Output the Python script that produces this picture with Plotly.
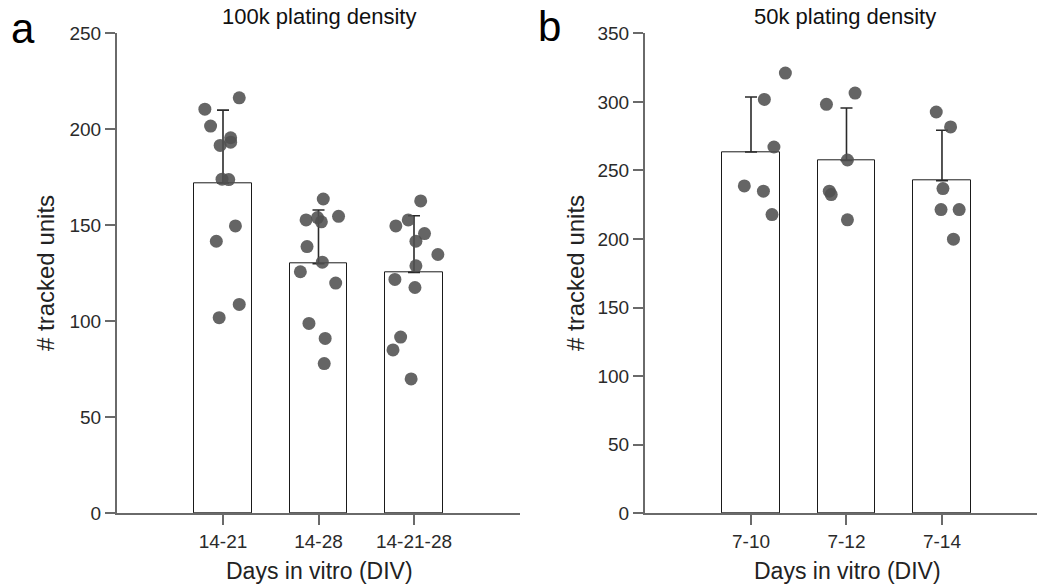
import plotly.graph_objects as go

# ---------------- data ----------------
cats_a = ["14-21", "14-28", "14-21-28"]
means_a = [172, 130, 125.5]
sd_a = [38, 28, 29.5]
pts_a = [
    [216.4, 210.5, 201.7, 195.6, 193.3, 191.6, 174.0, 173.8, 149.7, 141.7, 108.8, 101.9],
    [163.7, 152.8, 154.0, 151.8, 154.7, 138.9, 130.8, 125.8, 119.9, 98.9, 91.1, 78.0],
    [162.7, 152.8, 149.7, 145.7, 141.7, 134.8, 128.9, 121.8, 117.6, 91.8, 85.1, 70.0],
]
jit_a = [
    [0.17, -0.19, -0.13, 0.08, 0.08, -0.03, -0.01, 0.06, 0.13, -0.07, 0.17, -0.04],
    [0.05, -0.13, -0.01, 0.03, 0.21, -0.12, 0.04, -0.19, 0.18, -0.10, 0.07, 0.06],
    [0.07, -0.06, -0.19, 0.11, 0.02, 0.25, 0.02, -0.20, 0.01, -0.14, -0.22, -0.03],
]

cats_b = ["7-10", "7-12", "7-14"]
means_b = [263.5, 257.2, 242.5]
sd_b = [40, 38.3, 36.8]
pts_b = [
    [321.0, 301.8, 267.1, 238.7, 234.9, 217.8],
    [306.4, 298.2, 257.6, 234.9, 232.4, 214.0],
    [292.6, 281.7, 236.8, 221.5, 221.5, 199.9],
]
jit_b = [
    [0.36, 0.14, 0.24, -0.07, 0.13, 0.22],
    [0.09, -0.21, 0.01, -0.18, -0.16, 0.01],
    [-0.06, 0.09, 0.01, -0.01, 0.18, 0.12],
]

yticks_a = [0, 50, 100, 150, 200, 250]
yticks_b = [0, 50, 100, 150, 200, 250, 300, 350]

# ---------------- style ----------------
FONT = "Liberation Sans, Arial, sans-serif"
AXC = "#6a6a6a"
DOT = "rgba(80,80,80,0.88)"

fig = go.Figure()


def add_panel(cats, means, sd, pts, jit, xa, ya):
    idx = list(range(len(cats)))
    fig.add_trace(go.Bar(
        x=idx, y=means, width=0.6, xaxis=xa, yaxis=ya,
        marker=dict(color="white", line=dict(color="#1a1a1a", width=1)),
        error_y=dict(type="data", array=sd, arrayminus=[0] * len(sd), symmetric=False,
                     color="#2a2a2a", thickness=1.6, width=6),
        showlegend=False, hoverinfo="skip",
    ))
    xs, ys = [], []
    for i, (vals, js) in enumerate(zip(pts, jit)):
        for v, j in zip(vals, js):
            xs.append(i + j)
            ys.append(v)
    fig.add_trace(go.Scatter(
        x=xs, y=ys, mode="markers", xaxis=xa, yaxis=ya,
        marker=dict(size=13, color=DOT, line=dict(width=0)),
        showlegend=False, hoverinfo="skip",
    ))


add_panel(cats_a, means_a, sd_a, pts_a, jit_a, "x", "y")
add_panel(cats_b, means_b, sd_b, pts_b, jit_b, "x2", "y2")

W, H = 1037, 588
ybot = 1 - 513.3 / H
ytop = 1 - 33.3 / H

axis_common = dict(showline=True, linecolor=AXC, linewidth=2, ticks="outside", ticklen=10,
                   tickwidth=1.6, tickcolor=AXC, showgrid=False, zeroline=False,
                   automargin=False,
                   tickfont=dict(family=FONT, size=19, color="#2a2a2a"))

fig.update_layout(
    template="none",
    width=W, height=H,
    margin=dict(l=0, r=0, t=0, b=0, pad=0),
    paper_bgcolor="white", plot_bgcolor="white",
    bargap=0,
    xaxis=dict(domain=[117 / W, 520 / W], range=[-1.11, 3.11], tickvals=[0, 1, 2],
               ticktext=cats_a, anchor="y", **axis_common),
    yaxis=dict(domain=[ybot, ytop], range=[0, 250], tickvals=yticks_a, anchor="x",
               **axis_common),
    xaxis2=dict(domain=[645 / W, 1.0], range=[-1.11, 2.995], tickvals=[0, 1, 2],
                ticktext=cats_b, anchor="y2", **axis_common),
    yaxis2=dict(domain=[ybot, ytop], range=[0, 350], tickvals=yticks_b, anchor="x2",
                **axis_common),
)

ann = []


def px(x):
    return x / W


def py(y):
    return 1 - y / H


# panel letters
ann.append(dict(text="a", x=px(23), y=py(28), font=dict(family=FONT, size=42, color="black")))
ann.append(dict(text="b", x=px(549), y=py(26), font=dict(family=FONT, size=42, color="black")))
# titles
ann.append(dict(text="100k plating density", x=px(319), y=py(17),
                font=dict(family=FONT, size=22, color="#111")))
ann.append(dict(text="50k plating density", x=px(845), y=py(17),
                font=dict(family=FONT, size=22, color="#111")))
# x titles
ann.append(dict(text="Days in vitro (DIV)", x=px(319), y=py(571),
                font=dict(family=FONT, size=23, color="#222")))
ann.append(dict(text="Days in vitro (DIV)", x=px(847), y=py(571),
                font=dict(family=FONT, size=23, color="#222")))
# y titles
ann.append(dict(text="# tracked units", x=px(45), y=py(273), textangle=-90,
                font=dict(family=FONT, size=24, color="#222")))
ann.append(dict(text="# tracked units", x=px(575), y=py(273), textangle=-90,
                font=dict(family=FONT, size=24, color="#222")))

for a in ann:
    a.update(xref="paper", yref="paper", showarrow=False, xanchor="center", yanchor="middle")
fig.update_layout(annotations=ann)

fig.write_html("out.html")
